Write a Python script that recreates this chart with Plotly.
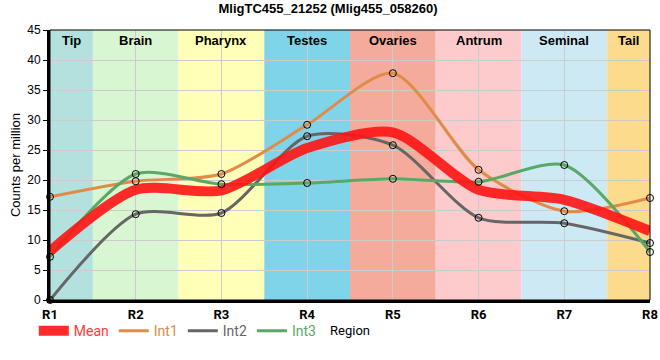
import plotly.graph_objects as go

regions = ["R1", "R2", "R3", "R4", "R5", "R6", "R7", "R8"]
int1 = [17.2, 19.8, 21.0, 29.2, 37.8, 21.7, 14.8, 17.0]
int2 = [0.0, 14.3, 14.5, 27.3, 25.8, 13.7, 12.8, 9.5]
int3 = [7.2, 21.0, 19.3, 19.5, 20.2, 19.7, 22.5, 8.0]
mean = [round((a + b + c) / 3, 2) for a, b, c in zip(int1, int2, int3)]

tissues = ["Tip", "Brain", "Pharynx", "Testes", "Ovaries", "Antrum", "Seminal", "Tail"]
tissue_start = [1, 1.5, 2.5, 3.5, 4.5, 5.5, 6.5, 7.5]
tissue_end = [1.5, 2.5, 3.5, 4.5, 5.5, 6.5, 7.5, 8]
tissue_colors = ["#b3e2de", "#d9f6d2", "#ffffb8", "#7fd4ea", "#f5ab9c", "#fdcbcb", "#cdeaf4", "#fddb8c"]

x = list(range(1, len(regions) + 1))

fig = go.Figure()

series = [
    ("Int1", int1, "#e08c48"),
    ("Int2", int2, "#666666"),
    ("Int3", int3, "#5aa865"),
]
for name, vals, col in series:
    fig.add_trace(go.Scatter(
        x=x, y=vals, mode="lines",
        line=dict(color=col, width=3, shape="spline", smoothing=0.75),
        name=f"<span style='color:{col}'>{name}</span>",
        legendrank=2,
    ))

fig.add_trace(go.Scatter(
    x=x, y=mean, mode="lines",
    line=dict(color="rgba(255,20,20,0.9)", width=10, shape="spline", smoothing=0.75),
    name="<span style='color:#ff3a3a'>Mean</span>",
    legendrank=1,
))

for name, vals, col in series:
    fig.add_trace(go.Scatter(
        x=x, y=vals, mode="markers", showlegend=False,
        marker=dict(symbol="circle", size=7, color="rgba(0,0,0,0)",
                    line=dict(color="black", width=1)),
        cliponaxis=False,
    ))

for t, s, e, c in zip(tissues, tissue_start, tissue_end, tissue_colors):
    fig.add_shape(type="rect", xref="x", yref="paper", x0=s, x1=e, y0=0, y1=1,
                  fillcolor=c, line=dict(width=0), layer="below")
    fig.add_annotation(x=(s + e) / 2, y=1, xref="x", yref="paper", yanchor="top",
                       text=f"<b>{t}</b>", showarrow=False, yshift=-1,
                       font=dict(family="Arial", size=13, color="black"))

fig.update_layout(
    width=660, height=360,
    margin=dict(l=50, r=10, t=30, b=60, autoexpand=False),
    paper_bgcolor="white", plot_bgcolor="white",
    title=dict(text="<b>MligTC455_21252 (Mlig455_058260)</b>", x=0.497, xanchor="center",
               xref="container", yref="container",
               y=1 - 8.5 / 360, yanchor="middle", pad=dict(t=0, b=0),
               font=dict(family="Arial", size=13, color="black")),
    font=dict(family="Arial", size=12, color="black"),
    legend=dict(orientation="h", x=-0.027, xanchor="left", y=-0.056, yanchor="top",
                font=dict(family="Roboto", size=14),
                bgcolor="rgba(0,0,0,0)", traceorder="normal", tracegroupgap=0),
    showlegend=True,
)

fig.update_xaxes(
    range=[1, 8], tickvals=x, ticktext=[f"<b>{r}</b>" for r in regions],
    showgrid=True, gridcolor="#cccccc", gridwidth=1,
    showline=True, linecolor="black", linewidth=3, mirror=False,
    ticks="", zeroline=False, automargin=False,
    tickfont=dict(family="Roboto", size=13, color="black"),
    title=dict(text="Region", font=dict(family="Roboto", size=13, color="black"), standoff=6),
)
fig.update_yaxes(
    range=[0, 45], dtick=5,
    showgrid=True, gridcolor="#cccccc", gridwidth=1,
    showline=True, linecolor="black", linewidth=3,
    ticks="outside", ticklen=4, tickcolor="black",
    zeroline=False, automargin=False,
    tickfont=dict(family="Arial", size=12, color="black"),
    title=dict(text="Counts per million", font=dict(family="Arial", size=13, color="black"), standoff=4),
)

fig.add_shape(type="rect", xref="paper", yref="paper", x0=0, x1=1, y0=0, y1=1,
              line=dict(color="black", width=1), fillcolor="rgba(0,0,0,0)", layer="above")

fig.write_html("out.html",
               config={"displayModeBar": False},
               post_script="document.body.style.margin='0';document.body.style.overflow='hidden';")
